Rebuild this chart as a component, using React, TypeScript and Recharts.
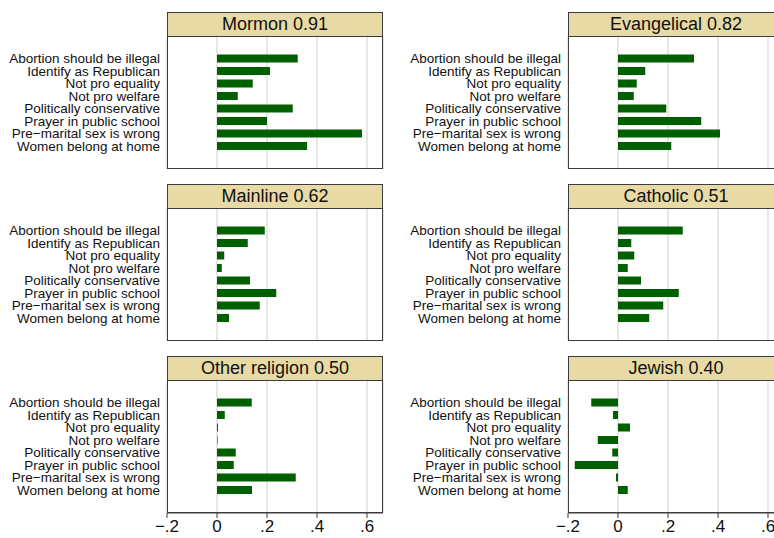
import React from 'react'
import { BarChart, Bar, XAxis, YAxis, CartesianGrid } from 'recharts'

const items = [
  'Abortion should be illegal',
  'Identify as Republican',
  'Not pro equality',
  'Not pro welfare',
  'Politically conservative',
  'Prayer in public school',
  'Pre\u2212marital sex is wrong',
  'Women belong at home',
]

const mormon = [0.323, 0.212, 0.143, 0.083, 0.303, 0.2, 0.58, 0.36]
const evangelical = [0.304, 0.109, 0.075, 0.063, 0.193, 0.333, 0.408, 0.213]
const mainline = [0.191, 0.123, 0.029, 0.019, 0.132, 0.237, 0.171, 0.048]
const catholic = [0.259, 0.053, 0.065, 0.039, 0.092, 0.243, 0.181, 0.125]
const otherReligion = [0.139, 0.031, 0.004, 0.002, 0.075, 0.067, 0.315, 0.14]
const jewish = [-0.107, -0.02, 0.048, -0.081, -0.023, -0.173, -0.008, 0.039]

const titles = ['Mormon 0.91', 'Evangelical 0.82', 'Mainline 0.62', 'Catholic 0.51', 'Other religion 0.50', 'Jewish 0.40']
const xTicks = [-0.2, 0, 0.2, 0.4, 0.6]

const panels = [mormon, evangelical, mainline, catholic, otherReligion, jewish].map((values, i) => ({
  title: titles[i],
  data: items.map((item, j) => ({ item, value: values[j] })),
}))

const FONT = '"Liberation Sans", Arial, Helvetica, sans-serif'
const LABEL_W = 167
const PLOT_W = 216
const PLOT_H = 133
const STRIP_H = 24
const AXIS_H = 30
const COL_X = [0, 401]
const ROW_Y = [36, 208, 380]
const X_DOMAIN: [number, number] = [-0.2, 0.664]

const fmtTick = (v: number) => {
  if (v === 0) return '0'
  const s = String(Math.abs(v)).replace(/^0/, '')
  return (v < 0 ? '\u2212' : '') + s
}

// single-line category label, right-aligned against the plot box
function ItemTick({ x, y, payload }: any) {
  return (
    <text x={x} y={y} textAnchor="end" dominantBaseline="central" fontSize={13.5} fill="#111">
      {payload.value}
    </text>
  )
}

function Panel({ title, data, left, top, showAxis }: {
  title: string
  data: { item: string; value: number }[]
  left: number
  top: number
  showAxis: boolean
}) {
  return (
    <>
      <div style={{
        position: 'absolute', left: left + LABEL_W, top: top - STRIP_H, width: PLOT_W, height: STRIP_H + 1,
        boxSizing: 'border-box', background: '#e7daa4', border: '1px solid #3c3c3c',
        fontSize: 18, lineHeight: `${STRIP_H - 1}px`, textAlign: 'center', color: '#111',
      }}>{title}</div>
      <div style={{ position: 'absolute', left, top }}>
        <BarChart
          width={LABEL_W + PLOT_W + 10}
          height={PLOT_H + (showAxis ? AXIS_H : 0)}
          data={data}
          layout="vertical"
          margin={{ top: 0, right: 10, bottom: 0, left: 0 }}
        >
          <CartesianGrid horizontal={false} stroke="#dadada" strokeWidth={1.3} />
          <XAxis
            type="number"
            domain={X_DOMAIN}
            ticks={xTicks}
            allowDataOverflow
            hide={!showAxis}
            height={AXIS_H}
            tickFormatter={fmtTick}
            tick={{ fontSize: 17, fill: '#111' }}
            tickSize={5}
            tickMargin={2}
            stroke="#3c3c3c"
          />
          <YAxis
            type="category"
            dataKey="item"
            width={LABEL_W}
            interval={0}
            tickLine={false}
            axisLine={false}
            tickSize={5}
            tickMargin={2}
            padding={{ top: 16.5, bottom: 16.5 }}
            tick={<ItemTick />}
          />
          <Bar dataKey="value" fill="#006000" barSize={8} isAnimationActive={false} />
        </BarChart>
      </div>
      <div style={{
        position: 'absolute', left: left + LABEL_W, top, width: PLOT_W, height: PLOT_H,
        boxSizing: 'border-box', border: '1px solid #3c3c3c', pointerEvents: 'none',
      }} />
    </>
  )
}

export default function App() {
  return (
    <div style={{
      position: 'absolute', left: 0, top: 0, width: 774, height: 538, overflow: 'hidden',
      background: '#fff', fontFamily: FONT,
    }}>
      {panels.map((p, i) => (
        <Panel
          key={p.title}
          title={p.title}
          data={p.data}
          left={COL_X[i % 2]}
          top={ROW_Y[Math.floor(i / 2)]}
          showAxis={i >= 4}
        />
      ))}
    </div>
  )
}
